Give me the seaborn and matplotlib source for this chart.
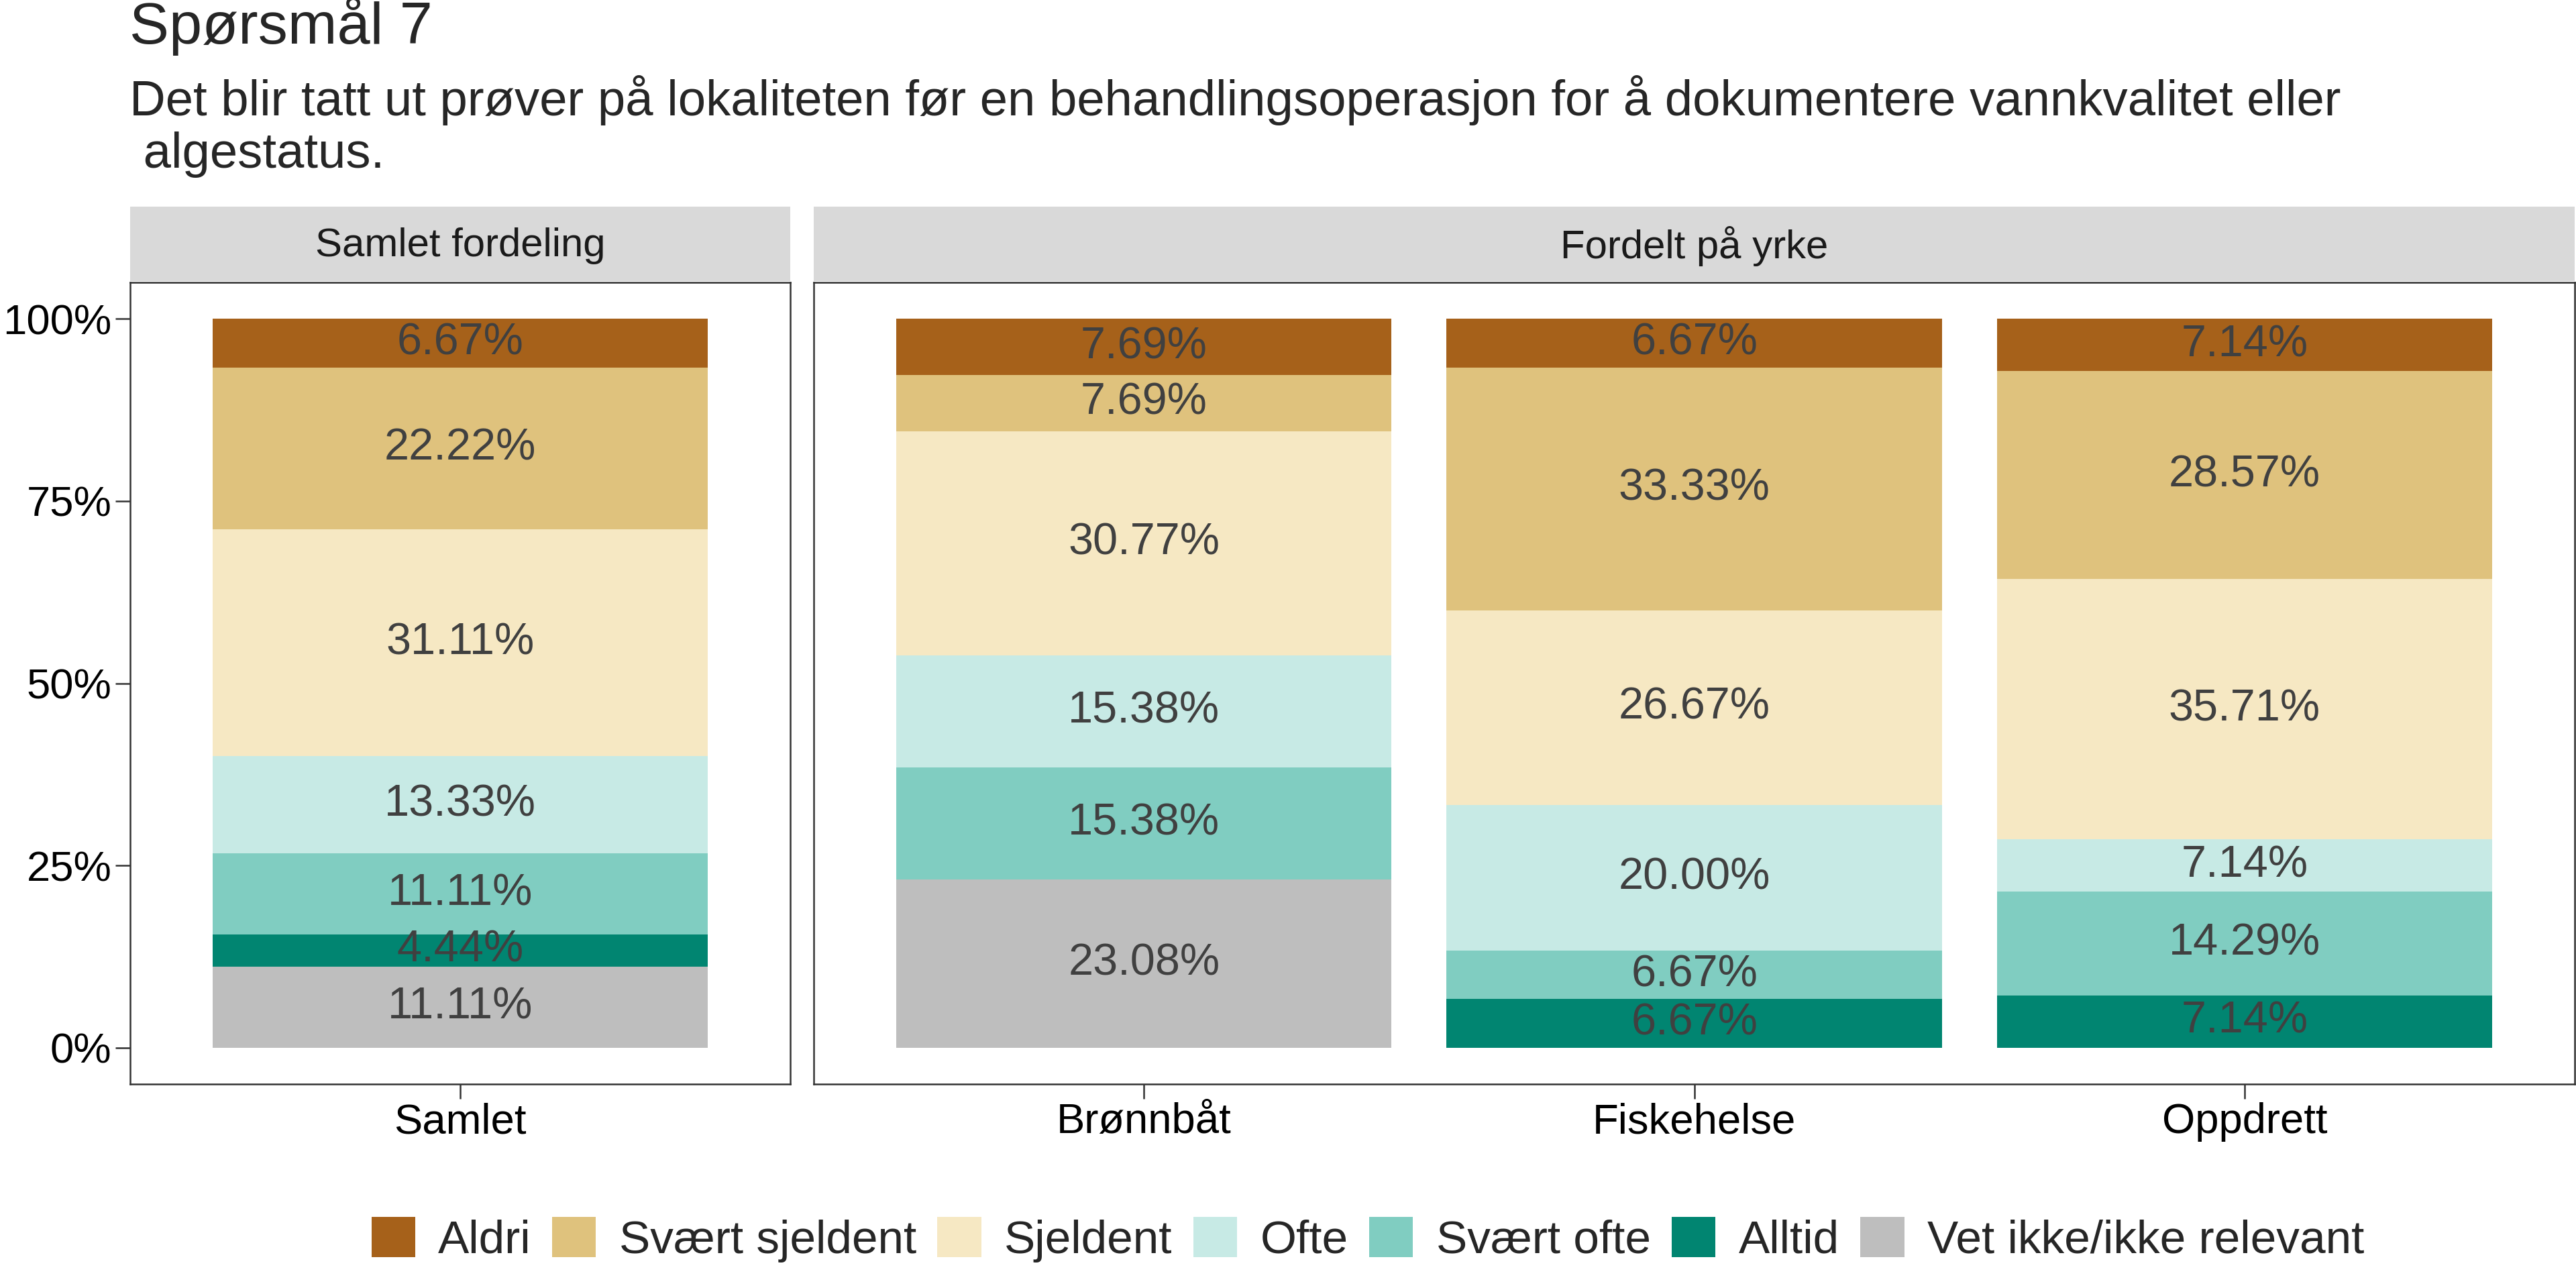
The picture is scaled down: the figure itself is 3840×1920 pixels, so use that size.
import pandas as pd
import matplotlib.pyplot as plt
import seaborn as sns

# Answer categories (top of stack first) and colours
categories = ['Aldri', 'Svært sjeldent', 'Sjeldent', 'Ofte', 'Svært ofte', 'Alltid',
              'Vet ikke/ikke relevant']
colors = ['#A6611A', '#DFC27D', '#F6E8C3', '#C7EAE5', '#80CDC1', '#018571', '#BEBEBE']

# Percent per group, same order as categories
samlet = [6.67, 22.22, 31.11, 13.33, 11.11, 4.44, 11.11]
bronnbat = [7.69, 7.69, 30.77, 15.38, 15.38, 0.0, 23.08]
fiskehelse = [6.67, 33.33, 26.67, 20.00, 6.67, 6.67, 0.0]
oppdrett = [7.14, 28.57, 35.71, 7.14, 14.29, 7.14, 0.0]

left_groups = ['Samlet']
right_groups = ['Brønnbåt', 'Fiskehelse', 'Oppdrett']
group_values = {'Samlet': samlet, 'Brønnbåt': bronnbat,
                'Fiskehelse': fiskehelse, 'Oppdrett': oppdrett}

y_ticks = [0, 25, 50, 75, 100]
y_ticklabels = ['0%', '25%', '50%', '75%', '100%']

title = 'Spørsmål 7'
subtitle = ['Det blir tatt ut prøver på lokaliteten før en behandlingsoperasjon for å dokumentere vannkvalitet eller',
            ' algestatus.']

sns.set_style('ticks')
plt.rcParams['font.family'] = ['Liberation Sans', 'DejaVu Sans']


def build_frame(groups):
    rows = []
    for g in groups:
        vals = group_values[g]
        # stack from the bottom: last category sits at the bottom
        bottom = 0.0
        for cat, v in reversed(list(zip(categories, vals))):
            rows.append({'gruppe': g, 'svar': cat, 'verdi': v,
                         'bunn': bottom, 'topp': bottom + v})
            bottom += v
    return pd.DataFrame(rows)


def draw_panel(ax, groups, show_y):
    df = build_frame(groups)
    # draw cumulative bars from the top category down so lower ones cover
    for cat, col in zip(categories, colors):
        sub = df[df['svar'] == cat]
        sns.barplot(data=sub, x='gruppe', y='topp', order=groups, color=col,
                    width=0.9, errorbar=None, saturation=1, ax=ax, zorder=2,
                    edgecolor='none', linewidth=0)
    for i, g in enumerate(groups):
        sub = df[df['gruppe'] == g]
        for _, r in sub.iterrows():
            if r['verdi'] > 0:
                ax.text(i, r['bunn'] + r['verdi'] / 2, f"{r['verdi']:.2f}%",
                        ha='center', va='center', fontsize=20, color='#404040', zorder=3)
    ax.set_xlim(-0.6, len(groups) - 0.4)
    ax.set_ylim(-5, 105)
    ax.set_xlabel('')
    ax.set_ylabel('')
    ax.set_yticks(y_ticks)
    if show_y:
        ax.set_yticklabels(y_ticklabels)
    else:
        ax.tick_params(axis='y', left=False, labelleft=False)
    ax.tick_params(axis='both', labelsize=19, length=6.6, width=0.75, color='#333333',
                   labelcolor='black')
    ax.tick_params(axis='y', pad=1.5)
    ax.tick_params(axis='x', pad=1.5)
    for s in ax.spines.values():
        s.set_visible(True)
        s.set_linewidth(0.75)
        s.set_color('#333333')
    ax.grid(False)


def draw_strip(fig, rect, label):
    sax = fig.add_axes(rect)
    sax.set_facecolor('#D9D9D9')
    sax.set_xticks([])
    sax.set_yticks([])
    for s in sax.spines.values():
        s.set_visible(False)
    sax.text(0.5, 0.47, label, ha='center', va='center', fontsize=18,
             color='#1A1A1A', transform=sax.transAxes)


fig = plt.figure(figsize=(16, 8), dpi=240)

pb, ph = 0.1583, 0.6224
left_rect = [0.0504, pb, 0.2564, ph]
right_rect = [0.3159, pb, 0.6836, ph]

ax1 = fig.add_axes(left_rect)
ax2 = fig.add_axes(right_rect)
draw_panel(ax1, left_groups, True)
draw_panel(ax2, right_groups, False)

strip_h = 0.0578
draw_strip(fig, [left_rect[0], pb + ph + 0.0012, left_rect[2], strip_h], 'Samlet fordeling')
draw_strip(fig, [right_rect[0], pb + ph + 0.0012, right_rect[2], strip_h], 'Fordelt på yrke')

fig.text(0.0503, 1 - 65 / 1920, title, fontsize=26.5, ha='left', va='baseline')
fig.text(0.0503, 1 - 172 / 1920, subtitle[0], fontsize=22.3, ha='left', va='baseline')
fig.text(0.0503, 1 - 250 / 1920, subtitle[1], fontsize=22.3, ha='left', va='baseline')

handles = [plt.Rectangle((0, 0), 1, 1, facecolor=c, edgecolor='none') for c in colors]
fig.legend(handles, categories, loc='center', bbox_to_anchor=(0.531, 1 - 1848 / 1920),
           ncol=7, frameon=False, fontsize=20.8, handlelength=0.94, handleheight=0.95,
           handletextpad=0.5, columnspacing=0.45, borderaxespad=0)

fig.savefig('out.png', dpi=240, facecolor='white')
